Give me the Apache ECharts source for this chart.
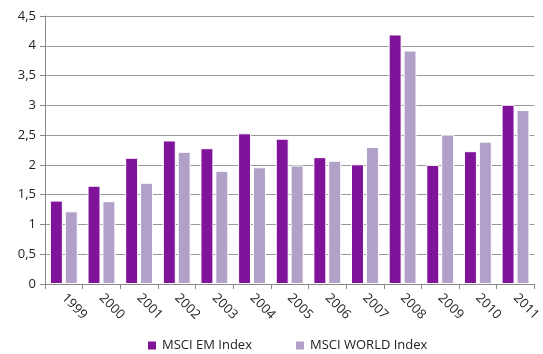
<!DOCTYPE html>
<html>
<head>
<meta charset="utf-8">
<script src="https://cdn.jsdelivr.net/npm/echarts@6/dist/echarts.min.js"></script>
<style>
  html, body { margin: 0; padding: 0; background: #fff; }
  #chart { width: 543px; height: 354px; }
</style>
</head>
<body>
<div id="chart"></div>
<script>
const years = ['1999', '2000', '2001', '2002', '2003', '2004', '2005', '2006', '2007', '2008', '2009', '2010', '2011']
const emValues = [1.40, 1.65, 2.12, 2.41, 2.28, 2.53, 2.44, 2.13, 2.01, 4.19, 2.00, 2.23, 3.01]
const worldValues = [1.22, 1.39, 1.70, 2.22, 1.90, 1.96, 1.99, 2.07, 2.30, 3.92, 2.51, 2.39, 2.92]

const chart = echarts.init(document.getElementById('chart'))
const font = 'Open Sans'

chart.setOption({
  animation: false,
  textStyle: { fontFamily: font },
  grid: { left: 45, right: 2, top: 16, bottom: 70, containLabel: false },
  legend: {
    bottom: -3,
    left: 141,
    itemWidth: 10,
    itemHeight: 10,
    itemGap: 42,
    icon: 'rect',
    textStyle: { fontFamily: font, fontSize: 13, color: '#222' },
    data: ['MSCI EM Index', 'MSCI WORLD Index'],
  },
  xAxis: {
    type: 'category',
    data: years,
    axisLine: { lineStyle: { color: '#888' } },
    axisTick: { show: true, length: 5, lineStyle: { color: '#888' } },
    axisLabel: { rotate: -45, fontSize: 13, color: '#222', margin: 12, fontFamily: font },
  },
  yAxis: {
    type: 'value',
    min: 0,
    max: 4.5,
    interval: 0.5,
    axisLine: { show: true, lineStyle: { color: '#888' } },
    axisTick: { show: true, length: 5, lineStyle: { color: '#888' } },
    splitLine: { lineStyle: { color: '#999' } },
    axisLabel: {
      fontSize: 13,
      color: '#222',
      margin: 9,
      fontFamily: font,
      formatter: v => String(v).replace('.', ','),
    },
  },
  series: [
    {
      name: 'MSCI EM Index',
      type: 'bar',
      data: emValues,
      barGap: '15%',
      barCategoryGap: '26%',
      itemStyle: { color: '#7f1399', borderColor: '#fff', borderWidth: 1 },
    },
    {
      name: 'MSCI WORLD Index',
      type: 'bar',
      data: worldValues,
      itemStyle: { color: '#b1a0c7', borderColor: '#fff', borderWidth: 1 },
    },
  ],
})
</script>
</body>
</html>
